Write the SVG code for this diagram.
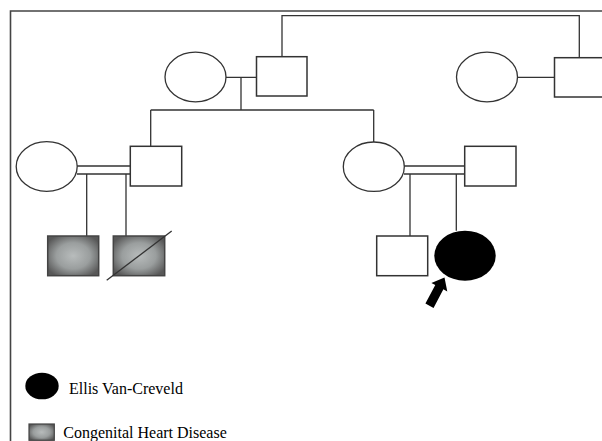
<svg xmlns="http://www.w3.org/2000/svg" width="602" height="441" viewBox="0 0 602 441">
<defs>
<radialGradient id="chd" cx="50%" cy="50%" r="60%">
<stop offset="0" stop-color="#b8bcbc"/>
<stop offset="0.55" stop-color="#9a9e9e"/>
<stop offset="1" stop-color="#585858"/>
</radialGradient>
<style>
.ln{stroke:#333;stroke-width:1.3;fill:none}
.m{fill:#fff;stroke:#333;stroke-width:1.5}
.f{fill:#fff;stroke:#333;stroke-width:1.3}
.chd{fill:url(#chd);stroke:#444;stroke-width:1.5}
.aff{fill:#000;stroke:none}
.t{font-family:"Liberation Serif","Times New Roman",serif;font-size:16px;fill:#000}
</style>
</defs>
<rect width="602" height="441" fill="#fff"/>
<g id="frame">
<path d="M10.5 441 V11 H602" stroke="#444" stroke-width="1.6" fill="none"/>
</g>
<g id="connectors">
<path class="ln" d="M282 56.7 V15.7 H579.3 V57.7"/>
<path class="ln" d="M222.6 77.3 H259"/>
<path class="ln" d="M241 77.3 V110 M150.7 110 H373.7 M150.7 110 V146.3 M373.7 110 V142"/>
<path class="ln" d="M517.5 77.3 H554.5"/>
<path class="ln" d="M77 166 H130.3 M77 174 H130.3"/>
<path class="ln" d="M86.7 174 V236 M126 174 V236"/>
<path class="ln" d="M404 166 H464.7 M404 174 H464.7"/>
<path class="ln" d="M410 174 V236 M456.3 174 V230.7"/>
</g>
<g id="gen1-left-female"><ellipse class="f" cx="195.5" cy="77" rx="30.5" ry="24.8"/></g>
<g id="gen1-left-male"><rect class="m" x="256.5" y="56.7" width="50.5" height="39.3"/></g>
<g id="gen1-right-female"><ellipse class="f" cx="487" cy="77" rx="30.5" ry="24.8"/></g>
<g id="gen1-right-male"><rect class="m" x="554.5" y="57.7" width="50.5" height="39.3"/></g>
<g id="gen2-left-female"><ellipse class="f" cx="46.7" cy="166.5" rx="30.5" ry="24.8"/></g>
<g id="gen2-left-male"><rect class="m" x="130.3" y="146.3" width="51.4" height="39.7"/></g>
<g id="gen2-right-female"><ellipse class="f" cx="373.8" cy="166.7" rx="30.5" ry="24.7"/></g>
<g id="gen2-right-male"><rect class="m" x="464.7" y="146.3" width="51.3" height="39.7"/></g>
<g id="gen3-chd-1"><rect class="chd" x="47.7" y="236" width="51" height="39.7"/></g>
<g id="gen3-chd-2-deceased">
<rect class="chd" x="113.3" y="236" width="51.4" height="39.7"/>
<line class="ln" x1="106.7" y1="280.3" x2="171.7" y2="231"/>
</g>
<g id="gen3-male"><rect class="m" x="376.7" y="236" width="51" height="39.7"/></g>
<g id="proband">
<ellipse class="aff" cx="465" cy="255.7" rx="30.7" ry="25"/>
<polygon class="aff" points="0,0 -11,-9 -11,-4.6 -32,-4.6 -32,4.6 -11,4.6 -11,9" transform="translate(444.5,277.5) rotate(-62)"/>
</g>
<g id="legend">
<ellipse class="aff" cx="42" cy="386" rx="16.7" ry="13.3"/>
<text class="t" x="69" y="394">Ellis Van-Creveld</text>
<rect class="chd" x="29" y="424" width="25.3" height="16.3" style="stroke-width:1.2"/>
<text class="t" x="63.3" y="437.7">Congenital Heart Disease</text>
</g>
</svg>
